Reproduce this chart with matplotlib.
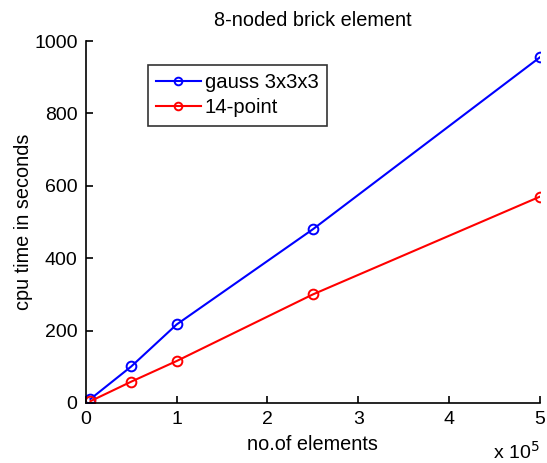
import matplotlib
matplotlib.use("Agg")
import matplotlib.pyplot as plt

plt.rcParams['font.family'] = ['Liberation Sans', 'DejaVu Sans']

elements = [5000, 50000, 100000, 250000, 500000]
gauss = [11, 101, 217, 480, 955]
point14 = [5, 59, 116, 300, 570]
xticks = [0, 100000, 200000, 300000, 400000, 500000]
xticklabels = ['0', '1', '2', '3', '4', '5']
yticks = [0, 200, 400, 600, 800, 1000]

fig = plt.figure(figsize=(5.47, 4.63), dpi=100)
ax = fig.add_axes([0.157, 0.1296, 0.830, 0.7818])

ax.plot(elements, gauss, '-o', color='#0000ff', lw=1.5, ms=7, mfc='none', mew=1.4, label='gauss 3x3x3')
ax.plot(elements, point14, '-o', color='#ff0000', lw=1.5, ms=7, mfc='none', mew=1.4, label='14-point')

ax.set_xlim(0, 500000)
ax.set_ylim(0, 1000)
ax.set_xticks(xticks)
ax.set_xticklabels(xticklabels)
ax.set_yticks(yticks)
for s in ['top', 'right']:
    ax.spines[s].set_visible(False)
for s in ['left', 'bottom']:
    ax.spines[s].set_linewidth(1.2)
ax.tick_params(direction='in', length=5, width=1.2, labelsize=14, pad=6)

ax.set_title('8-noded brick element', fontsize=14.3, pad=11)
ax.set_xlabel('no.of elements', fontsize=14.3, labelpad=5)
ax.set_ylabel('cpu time in seconds', fontsize=14.3, labelpad=1)
ax.text(1.0, -0.155, r'x 10$^5$', transform=ax.transAxes, ha='right', va='baseline', fontsize=14)

leg = ax.legend(loc='upper left', bbox_to_anchor=(0.137, 0.933), fontsize=14.6,
                frameon=True, fancybox=False, edgecolor='black', borderpad=0.4,
                handlelength=2.2, handletextpad=0.2, labelspacing=0.3, borderaxespad=0)
leg.get_frame().set_linewidth(1.2)
for h in leg.legend_handles:
    h.set_markersize(5.5)

fig.savefig('out.png', dpi=100)
